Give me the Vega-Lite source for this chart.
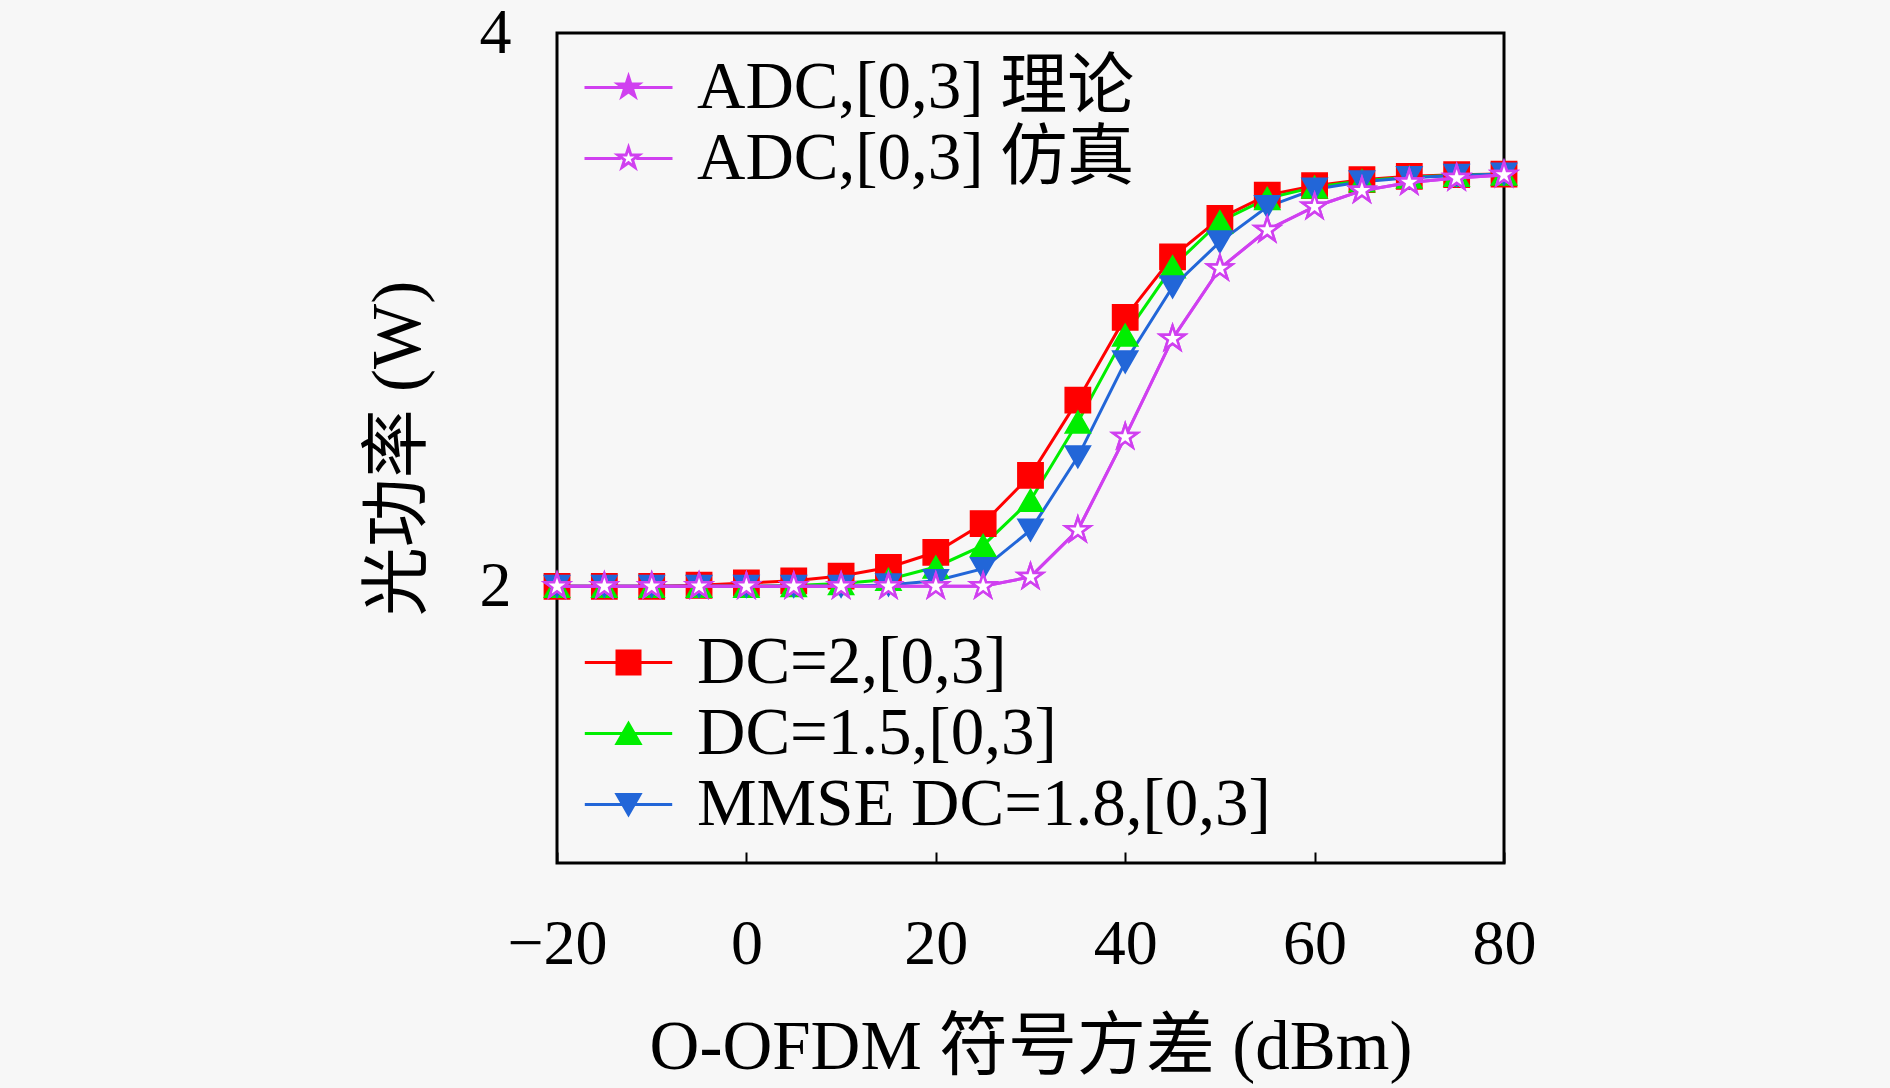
{
  "$schema": "https://vega.github.io/schema/vega-lite/v6.json",
  "autosize": {"type": "none"},
  "padding": {"left": 557, "top": 33, "right": 386, "bottom": 225},
  "width": 947,
  "height": 830,
  "background": "#f7f7f7",
  "config": {
    "view": {"stroke": "black", "strokeWidth": 3},
    "font": "Liberation Serif, Noto Sans CJK SC",
    "axis": {
      "grid": false,
      "domain": false,
      "labelFont": "Liberation Serif, Noto Sans CJK SC",
      "titleFont": "Liberation Serif, Noto Sans CJK SC",
      "labelFontSize": 64,
      "titleFontSize": 69,
      "labelColor": "black",
      "titleColor": "black",
      "titleFontWeight": "normal",
      "labelFlush": false,
      "labelOverlap": false
    },
    "legend": {
      "orient": "none",
      "legendX": 0,
      "title": null,
      "padding": 0,
      "symbolStrokeWidth": 3,
      "symbolOpacity": 1,
      "symbolOffset": 38,
      "labelOffset": 35,
      "labelFont": "Liberation Serif, Noto Sans CJK SC",
      "labelFontSize": 67,
      "labelColor": "black",
      "labelLimit": 1200,
      "rowPadding": 3
    }
  },
  "data": {
    "values": [
      {"x": -20, "y": 2.0, "s": "DC=2,[0,3]"},
      {"x": -15, "y": 2.0, "s": "DC=2,[0,3]"},
      {"x": -10, "y": 2.0, "s": "DC=2,[0,3]"},
      {"x": -5, "y": 2.004, "s": "DC=2,[0,3]"},
      {"x": 0, "y": 2.012, "s": "DC=2,[0,3]"},
      {"x": 5, "y": 2.02, "s": "DC=2,[0,3]"},
      {"x": 10, "y": 2.037, "s": "DC=2,[0,3]"},
      {"x": 15, "y": 2.068, "s": "DC=2,[0,3]"},
      {"x": 20, "y": 2.123, "s": "DC=2,[0,3]"},
      {"x": 25, "y": 2.227, "s": "DC=2,[0,3]"},
      {"x": 30, "y": 2.401, "s": "DC=2,[0,3]"},
      {"x": 35, "y": 2.673, "s": "DC=2,[0,3]"},
      {"x": 40, "y": 2.972, "s": "DC=2,[0,3]"},
      {"x": 45, "y": 3.191, "s": "DC=2,[0,3]"},
      {"x": 50, "y": 3.33, "s": "DC=2,[0,3]"},
      {"x": 55, "y": 3.414, "s": "DC=2,[0,3]"},
      {"x": 60, "y": 3.448, "s": "DC=2,[0,3]"},
      {"x": 65, "y": 3.47, "s": "DC=2,[0,3]"},
      {"x": 70, "y": 3.482, "s": "DC=2,[0,3]"},
      {"x": 75, "y": 3.488, "s": "DC=2,[0,3]"},
      {"x": 80, "y": 3.49, "s": "DC=2,[0,3]"},
      {"x": -20, "y": 2.0, "s": "DC=1.5,[0,3]"},
      {"x": -15, "y": 2.0, "s": "DC=1.5,[0,3]"},
      {"x": -10, "y": 2.0, "s": "DC=1.5,[0,3]"},
      {"x": -5, "y": 2.0, "s": "DC=1.5,[0,3]"},
      {"x": 0, "y": 2.0, "s": "DC=1.5,[0,3]"},
      {"x": 5, "y": 2.003, "s": "DC=1.5,[0,3]"},
      {"x": 10, "y": 2.01, "s": "DC=1.5,[0,3]"},
      {"x": 15, "y": 2.025, "s": "DC=1.5,[0,3]"},
      {"x": 20, "y": 2.07, "s": "DC=1.5,[0,3]"},
      {"x": 25, "y": 2.148, "s": "DC=1.5,[0,3]"},
      {"x": 30, "y": 2.311, "s": "DC=1.5,[0,3]"},
      {"x": 35, "y": 2.594, "s": "DC=1.5,[0,3]"},
      {"x": 40, "y": 2.908, "s": "DC=1.5,[0,3]"},
      {"x": 45, "y": 3.155, "s": "DC=1.5,[0,3]"},
      {"x": 50, "y": 3.318, "s": "DC=1.5,[0,3]"},
      {"x": 55, "y": 3.402, "s": "DC=1.5,[0,3]"},
      {"x": 60, "y": 3.443, "s": "DC=1.5,[0,3]"},
      {"x": 65, "y": 3.466, "s": "DC=1.5,[0,3]"},
      {"x": 70, "y": 3.479, "s": "DC=1.5,[0,3]"},
      {"x": 75, "y": 3.486, "s": "DC=1.5,[0,3]"},
      {"x": 80, "y": 3.49, "s": "DC=1.5,[0,3]"},
      {"x": -20, "y": 2.0, "s": "MMSE DC=1.8,[0,3]"},
      {"x": -15, "y": 2.0, "s": "MMSE DC=1.8,[0,3]"},
      {"x": -10, "y": 2.0, "s": "MMSE DC=1.8,[0,3]"},
      {"x": -5, "y": 2.0, "s": "MMSE DC=1.8,[0,3]"},
      {"x": 0, "y": 2.0, "s": "MMSE DC=1.8,[0,3]"},
      {"x": 5, "y": 2.0, "s": "MMSE DC=1.8,[0,3]"},
      {"x": 10, "y": 2.0, "s": "MMSE DC=1.8,[0,3]"},
      {"x": 15, "y": 2.005, "s": "MMSE DC=1.8,[0,3]"},
      {"x": 20, "y": 2.02, "s": "MMSE DC=1.8,[0,3]"},
      {"x": 25, "y": 2.064, "s": "MMSE DC=1.8,[0,3]"},
      {"x": 30, "y": 2.203, "s": "MMSE DC=1.8,[0,3]"},
      {"x": 35, "y": 2.468, "s": "MMSE DC=1.8,[0,3]"},
      {"x": 40, "y": 2.811, "s": "MMSE DC=1.8,[0,3]"},
      {"x": 45, "y": 3.082, "s": "MMSE DC=1.8,[0,3]"},
      {"x": 50, "y": 3.245, "s": "MMSE DC=1.8,[0,3]"},
      {"x": 55, "y": 3.372, "s": "MMSE DC=1.8,[0,3]"},
      {"x": 60, "y": 3.435, "s": "MMSE DC=1.8,[0,3]"},
      {"x": 65, "y": 3.462, "s": "MMSE DC=1.8,[0,3]"},
      {"x": 70, "y": 3.477, "s": "MMSE DC=1.8,[0,3]"},
      {"x": 75, "y": 3.485, "s": "MMSE DC=1.8,[0,3]"},
      {"x": 80, "y": 3.49, "s": "MMSE DC=1.8,[0,3]"},
      {"x": -20, "y": 2.0, "s": "ADC,[0,3] 理论"},
      {"x": -15, "y": 2.0, "s": "ADC,[0,3] 理论"},
      {"x": -10, "y": 2.0, "s": "ADC,[0,3] 理论"},
      {"x": -5, "y": 2.0, "s": "ADC,[0,3] 理论"},
      {"x": 0, "y": 2.0, "s": "ADC,[0,3] 理论"},
      {"x": 5, "y": 2.0, "s": "ADC,[0,3] 理论"},
      {"x": 10, "y": 2.0, "s": "ADC,[0,3] 理论"},
      {"x": 15, "y": 2.0, "s": "ADC,[0,3] 理论"},
      {"x": 20, "y": 2.0, "s": "ADC,[0,3] 理论"},
      {"x": 25, "y": 2.0, "s": "ADC,[0,3] 理论"},
      {"x": 30, "y": 2.034, "s": "ADC,[0,3] 理论"},
      {"x": 35, "y": 2.203, "s": "ADC,[0,3] 理论"},
      {"x": 40, "y": 2.54, "s": "ADC,[0,3] 理论"},
      {"x": 45, "y": 2.895, "s": "ADC,[0,3] 理论"},
      {"x": 50, "y": 3.149, "s": "ADC,[0,3] 理论"},
      {"x": 55, "y": 3.288, "s": "ADC,[0,3] 理论"},
      {"x": 60, "y": 3.372, "s": "ADC,[0,3] 理论"},
      {"x": 65, "y": 3.43, "s": "ADC,[0,3] 理论"},
      {"x": 70, "y": 3.46, "s": "ADC,[0,3] 理论"},
      {"x": 75, "y": 3.476, "s": "ADC,[0,3] 理论"},
      {"x": 80, "y": 3.487, "s": "ADC,[0,3] 理论"},
      {"x": -20, "y": 2.0, "s": "ADC,[0,3] 仿真"},
      {"x": -15, "y": 2.0, "s": "ADC,[0,3] 仿真"},
      {"x": -10, "y": 2.0, "s": "ADC,[0,3] 仿真"},
      {"x": -5, "y": 2.0, "s": "ADC,[0,3] 仿真"},
      {"x": 0, "y": 2.0, "s": "ADC,[0,3] 仿真"},
      {"x": 5, "y": 2.0, "s": "ADC,[0,3] 仿真"},
      {"x": 10, "y": 2.0, "s": "ADC,[0,3] 仿真"},
      {"x": 15, "y": 2.0, "s": "ADC,[0,3] 仿真"},
      {"x": 20, "y": 2.0, "s": "ADC,[0,3] 仿真"},
      {"x": 25, "y": 2.0, "s": "ADC,[0,3] 仿真"},
      {"x": 30, "y": 2.034, "s": "ADC,[0,3] 仿真"},
      {"x": 35, "y": 2.203, "s": "ADC,[0,3] 仿真"},
      {"x": 40, "y": 2.54, "s": "ADC,[0,3] 仿真"},
      {"x": 45, "y": 2.895, "s": "ADC,[0,3] 仿真"},
      {"x": 50, "y": 3.149, "s": "ADC,[0,3] 仿真"},
      {"x": 55, "y": 3.288, "s": "ADC,[0,3] 仿真"},
      {"x": 60, "y": 3.372, "s": "ADC,[0,3] 仿真"},
      {"x": 65, "y": 3.43, "s": "ADC,[0,3] 仿真"},
      {"x": 70, "y": 3.46, "s": "ADC,[0,3] 仿真"},
      {"x": 75, "y": 3.476, "s": "ADC,[0,3] 仿真"},
      {"x": 80, "y": 3.487, "s": "ADC,[0,3] 仿真"}
    ]
  },
  "encoding": {
    "x": {
      "field": "x",
      "type": "quantitative",
      "title": "O-OFDM 符号方差 (dBm)",
      "scale": {"domain": [-20, 80], "nice": false, "zero": false},
      "axis": {
        "values": [-20, 0, 20, 40, 60, 80],
        "ticks": true,
        "tickSize": -11,
        "tickWidth": 2,
        "tickColor": "black",
        "labelPadding": 60,
        "titlePadding": 37
      }
    },
    "y": {
      "field": "y",
      "type": "quantitative",
      "title": "光功率 (W)",
      "scale": {"domain": [1, 4], "nice": false, "zero": false},
      "axis": {
        "values": [2, 4],
        "ticks": false,
        "labelPadding": 46,
        "titlePadding": 46
      }
    }
  },
  "layer": [
    {
      "transform": [{"filter": {"field": "s", "oneOf": ["DC=2,[0,3]", "DC=1.5,[0,3]", "MMSE DC=1.8,[0,3]"]}}],
      "mark": {"type": "line", "strokeWidth": 3},
      "encoding": {
        "color": {
          "field": "s",
          "type": "nominal",
          "scale": {"domain": ["DC=2,[0,3]", "DC=1.5,[0,3]", "MMSE DC=1.8,[0,3]"], "range": ["#ff0000", "#00ee00", "#2266d8"]},
          "legend": null
        }
      }
    },
    {
      "transform": [{"filter": {"field": "s", "oneOf": ["DC=2,[0,3]", "DC=1.5,[0,3]", "MMSE DC=1.8,[0,3]"]}}],
      "mark": {"type": "point", "filled": true, "opacity": 1, "size": 640, "strokeWidth": 1.5},
      "encoding": {
        "shape": {
          "field": "s",
          "type": "nominal",
          "scale": {"domain": ["DC=2,[0,3]", "DC=1.5,[0,3]", "MMSE DC=1.8,[0,3]"], "range": ["square", "triangle-up", "triangle-down"]},
          "legend": null
        },
        "fill": {
          "field": "s",
          "type": "nominal",
          "scale": {"domain": ["DC=2,[0,3]", "DC=1.5,[0,3]", "MMSE DC=1.8,[0,3]"], "range": ["#ff0000", "#00ee00", "#2266d8"]},
          "legend": null
        },
        "stroke": {
          "field": "s",
          "type": "nominal",
          "scale": {"domain": ["DC=2,[0,3]", "DC=1.5,[0,3]", "MMSE DC=1.8,[0,3]"], "range": ["#ff0000", "#00ee00", "#2266d8"]},
          "legend": null
        }
      }
    },
    {
      "transform": [{"filter": {"field": "s", "oneOf": ["ADC,[0,3] 理论", "ADC,[0,3] 仿真"]}}],
      "mark": {"type": "line", "strokeWidth": 3},
      "encoding": {
        "color": {
          "field": "s",
          "type": "nominal",
          "scale": {"domain": ["ADC,[0,3] 理论", "ADC,[0,3] 仿真"], "range": ["#d040f0", "#d040f0"]},
          "legend": null
        }
      }
    },
    {
      "transform": [{"filter": {"field": "s", "oneOf": ["ADC,[0,3] 理论", "ADC,[0,3] 仿真"]}}],
      "mark": {"type": "point", "filled": true, "opacity": 1, "size": 660, "strokeWidth": 2.5},
      "encoding": {
        "shape": {
          "field": "s",
          "type": "nominal",
          "scale": {
            "domain": ["ADC,[0,3] 理论", "ADC,[0,3] 仿真"],
            "range": [
              "M0,-1L0.225,-0.309L0.951,-0.309L0.363,0.118L0.588,0.809L0,0.382L-0.588,0.809L-0.363,0.118L-0.951,-0.309L-0.225,-0.309Z",
              "M0,-1L0.225,-0.309L0.951,-0.309L0.363,0.118L0.588,0.809L0,0.382L-0.588,0.809L-0.363,0.118L-0.951,-0.309L-0.225,-0.309Z"
            ]
          },
          "legend": null
        },
        "fill": {
          "field": "s",
          "type": "nominal",
          "scale": {"domain": ["ADC,[0,3] 理论", "ADC,[0,3] 仿真"], "range": ["#d040f0", "#ffffff"]},
          "legend": null
        },
        "stroke": {
          "field": "s",
          "type": "nominal",
          "scale": {"domain": ["ADC,[0,3] 理论", "ADC,[0,3] 仿真"], "range": ["#d040f0", "#d040f0"]},
          "legend": null
        }
      }
    },
    {
      "transform": [{"filter": {"field": "s", "oneOf": ["DC=2,[0,3]", "DC=1.5,[0,3]", "MMSE DC=1.8,[0,3]"]}}],
      "mark": {"type": "point", "filled": true, "opacity": 0, "size": 529, "strokeWidth": 3},
      "encoding": {
        "shape": {
          "field": "s",
          "type": "nominal",
          "scale": {
            "domain": ["DC=2,[0,3]", "DC=1.5,[0,3]", "MMSE DC=1.8,[0,3]"],
            "range": [
              "M-3.8,0L3.8,0M-1,-1L1,-1L1,1L-1,1Z",
              "M-3.8,0L3.8,0M0,-0.866L1,0.866L-1,0.866Z",
              "M-3.8,0L3.8,0M0,0.866L-1,-0.866L1,-0.866Z"
            ]
          },
          "legend": {"legendY": 596, "symbolSize": 529}
        },
        "fill": {
          "field": "s",
          "type": "nominal",
          "scale": {"domain": ["DC=2,[0,3]", "DC=1.5,[0,3]", "MMSE DC=1.8,[0,3]"], "range": ["#ff0000", "#00ee00", "#2266d8"]}
        },
        "stroke": {
          "field": "s",
          "type": "nominal",
          "scale": {"domain": ["DC=2,[0,3]", "DC=1.5,[0,3]", "MMSE DC=1.8,[0,3]"], "range": ["#ff0000", "#00ee00", "#2266d8"]}
        }
      }
    },
    {
      "transform": [{"filter": {"field": "s", "oneOf": ["ADC,[0,3] 理论", "ADC,[0,3] 仿真"]}}],
      "mark": {"type": "point", "filled": true, "opacity": 0, "size": 484, "strokeWidth": 3},
      "encoding": {
        "shape": {
          "field": "s",
          "type": "nominal",
          "scale": {
            "domain": ["ADC,[0,3] 理论", "ADC,[0,3] 仿真"],
            "range": [
              "M-4,0L4,0M0,-1L0.225,-0.309L0.951,-0.309L0.363,0.118L0.588,0.809L0,0.382L-0.588,0.809L-0.363,0.118L-0.951,-0.309L-0.225,-0.309Z",
              "M-4,0L-0.7,0M0.7,0L4,0M0,-1L0.225,-0.309L0.951,-0.309L0.363,0.118L0.588,0.809L0,0.382L-0.588,0.809L-0.363,0.118L-0.951,-0.309L-0.225,-0.309Z"
            ]
          },
          "legend": {"legendY": 21, "symbolSize": 484}
        },
        "fill": {
          "field": "s",
          "type": "nominal",
          "scale": {"domain": ["ADC,[0,3] 理论", "ADC,[0,3] 仿真"], "range": ["#d040f0", "#ffffff"]}
        },
        "stroke": {
          "field": "s",
          "type": "nominal",
          "scale": {"domain": ["ADC,[0,3] 理论", "ADC,[0,3] 仿真"], "range": ["#d040f0", "#d040f0"]}
        }
      }
    }
  ],
  "resolve": {
    "scale": {"color": "independent", "fill": "independent", "stroke": "independent", "shape": "independent"},
    "legend": {"color": "independent", "fill": "independent", "stroke": "independent", "shape": "independent"}
  }
}
